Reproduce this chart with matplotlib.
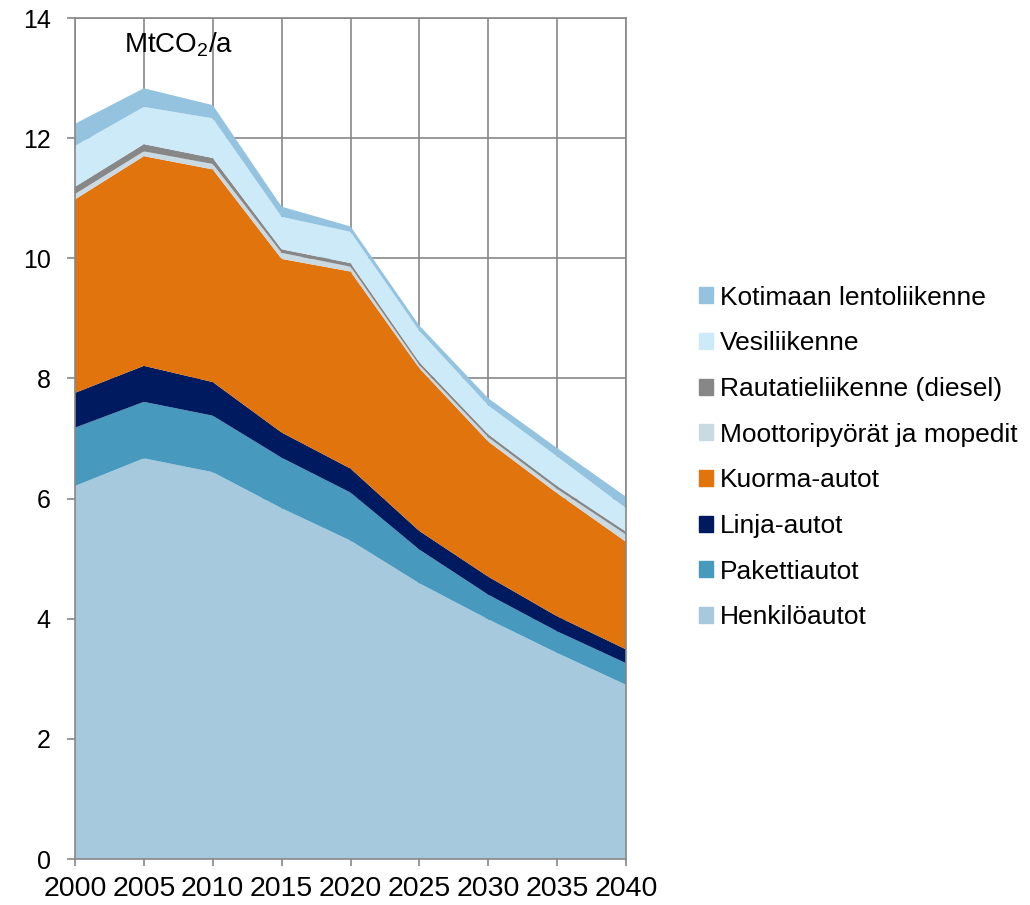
import matplotlib
matplotlib.use("Agg")
import matplotlib.pyplot as plt
from matplotlib.patches import Patch

plt.rcParams['font.family'] = ['Liberation Sans', 'DejaVu Sans']
plt.rcParams['mathtext.fontset'] = 'custom'
plt.rcParams['mathtext.rm'] = 'Liberation Sans'
plt.rcParams['mathtext.it'] = 'Liberation Sans'

# vuodet ja päästöt (MtCO2/a), luettu kuvasta
years = [2000, 2005, 2010, 2015, 2020, 2025, 2030, 2035, 2040]

henkiloautot = [6.21, 6.67, 6.44, 5.84, 5.30, 4.59, 3.99, 3.43, 2.90]
pakettiautot = [0.97, 0.94, 0.94, 0.84, 0.80, 0.56, 0.41, 0.36, 0.36]
linja_autot = [0.58, 0.60, 0.56, 0.42, 0.40, 0.31, 0.30, 0.25, 0.23]
kuorma_autot = [3.22, 3.49, 3.54, 2.89, 3.28, 2.71, 2.25, 2.05, 1.79]
moottoripyorat = [0.09, 0.08, 0.09, 0.10, 0.08, 0.05, 0.07, 0.07, 0.12]
rautatie = [0.12, 0.12, 0.10, 0.06, 0.06, 0.05, 0.05, 0.05, 0.05]
vesiliikenne = [0.68, 0.62, 0.66, 0.54, 0.52, 0.52, 0.48, 0.49, 0.39]
lentoliikenne = [0.37, 0.31, 0.22, 0.17, 0.09, 0.09, 0.12, 0.14, 0.19]

labels = ["Henkilöautot", "Pakettiautot", "Linja-autot", "Kuorma-autot",
          "Moottoripyörät ja mopedit", "Rautatieliikenne (diesel)",
          "Vesiliikenne", "Kotimaan lentoliikenne"]
colors = ["#A6C9DD", "#4899BE", "#001A5F", "#E1740D",
          "#CADAE3", "#878787", "#CDEAF9", "#93C3DF"]

series = [henkiloautot, pakettiautot, linja_autot, kuorma_autot,
          moottoripyorat, rautatie, vesiliikenne, lentoliikenne]

fig = plt.figure(figsize=(10.3, 9.05), dpi=100)
ax = fig.add_axes([0.0728, 0.0508, 0.535, 0.9293])

ax.stackplot(years, *series, colors=colors, labels=labels, linewidth=0, zorder=2)

ax.set_xlim(2000, 2040)
ax.set_ylim(0, 14)
ax.set_xticks(years)
ax.set_yticks(range(0, 15, 2))
ax.grid(True, color="#878787", linewidth=1.2, zorder=0)
ax.set_axisbelow(True)
for s in ax.spines.values():
    s.set_color("#878787")
    s.set_linewidth(1.2)
ax.tick_params(axis="both", colors="#878787", length=6, width=1.2,
               labelcolor="black")
ax.tick_params(axis="y", labelsize=18, pad=11.5)
ax.tick_params(axis="x", labelsize=20.5, length=5, pad=7.5)

ax.text(2007.5, 13.43, "MtCO$_2$/a", fontsize=20, ha="center", va="baseline")

handles = [Patch(color=c, label=l) for c, l in zip(colors, labels)][::-1]
fig.legend(handles=handles, loc="center left", bbox_to_anchor=(0.6786, 0.4945),
           frameon=False, fontsize=19, handlelength=0.55, handleheight=0.55,
           handletextpad=0.25, labelspacing=0.82, borderpad=0, borderaxespad=0)

fig.savefig("out.png", dpi=100)
